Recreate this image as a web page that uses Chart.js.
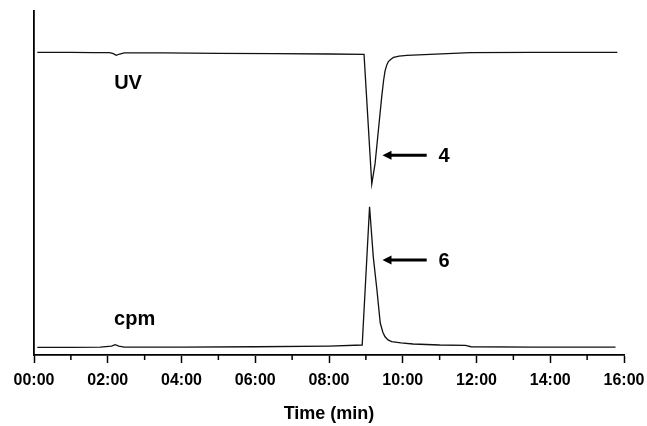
<!DOCTYPE html>
<html>
<head>
<meta charset="utf-8">
<script src="https://cdn.jsdelivr.net/npm/chart.js@4/dist/chart.umd.min.js"></script>
<style>
  body { margin: 0; background: #fff; }
  #wrap { width: 647px; height: 426px; position: relative; }
</style>
</head>
<body>
<div id="wrap"><canvas id="chromChart"></canvas></div>
<script>
// UV trace (minutes, arbitrary signal units)
const uvTime = [0.09, 1.0, 1.6, 2.05, 2.15, 2.23, 2.32, 2.45, 3.5, 5.0, 6.5, 8.0, 8.95, 9.16, 9.25, 9.34, 9.43, 9.48, 9.52, 9.57, 9.61, 9.68, 9.75, 9.9, 10.11, 10.74, 11.83, 13.5, 15.82];
const uvValues = [88.0, 88.0, 87.9, 87.9, 87.6, 87.1, 87.5, 87.8, 87.8, 87.7, 87.6, 87.5, 87.4, 49.7, 55.7, 65.4, 75.1, 79.8, 82.6, 84.4, 85.3, 86.0, 86.5, 86.9, 87.1, 87.4, 87.9, 88.0, 88.0];

// radioactivity trace
const cpmTime = [0.09, 1.0, 1.8, 2.1, 2.2, 2.3, 2.45, 4.0, 6.0, 8.0, 8.9, 9.10, 9.20, 9.30, 9.39, 9.46, 9.52, 9.60, 9.70, 9.95, 10.28, 11.0, 11.7, 11.85, 13.5, 15.77];
const cpmValues = [2.2, 2.2, 2.3, 2.6, 3.0, 2.6, 2.3, 2.3, 2.4, 2.6, 2.9, 43.1, 28.6, 18.9, 9.3, 6.6, 5.3, 4.4, 3.9, 3.5, 3.2, 2.9, 2.8, 2.4, 2.3, 2.3];

const tickLabels = ['00:00', '02:00', '04:00', '06:00', '08:00', '10:00', '12:00', '14:00', '16:00'];

// trace names and where they sit (data coords)
const traceNames = ['UV', 'cpm'];
const traceNameTime = [2.55, 2.73];
const traceNameValue = [79.0, 10.2];

// peak arrows: compound number, arrow tip / tail time, level
const peakNames = ['4', '6'];
const peakTipTime = [9.45, 9.45];
const peakTailTime = [10.65, 10.65];
const peakValue = [58.1, 27.6];
const peakTextTime = [11.12, 11.12];

const FONT = '"Liberation Sans", Arial, sans-serif';

function toPoints(xs, ys) {
  return xs.map((x, i) => ({ x: x, y: ys[i] }));
}

const minorTicks = {
  id: 'minorTicks',
  afterDraw(chart) {
    const ctx = chart.ctx;
    const xs = chart.scales.x;
    const bottom = chart.chartArea.bottom;
    ctx.save();
    ctx.strokeStyle = '#000';
    ctx.lineWidth = 1.5;
    for (let m = 1; m < 16; m += 2) {
      const px = xs.getPixelForValue(m);
      ctx.beginPath();
      ctx.moveTo(px, bottom);
      ctx.lineTo(px, bottom + 5);
      ctx.stroke();
    }
    ctx.restore();
  }
};

const notes = {
  id: 'notes',
  afterDraw(chart) {
    const ctx = chart.ctx;
    const xs = chart.scales.x;
    const ys = chart.scales.y;
    ctx.save();
    ctx.fillStyle = '#000';
    ctx.strokeStyle = '#000';
    ctx.textAlign = 'center';
    ctx.textBaseline = 'middle';

    ctx.font = 'bold 20px ' + FONT;
    traceNames.forEach((name, i) => {
      ctx.fillText(name, xs.getPixelForValue(traceNameTime[i]), ys.getPixelForValue(traceNameValue[i]));
    });

    peakNames.forEach((name, i) => {
      const y = ys.getPixelForValue(peakValue[i]);
      const tip = xs.getPixelForValue(peakTipTime[i]);
      const tail = xs.getPixelForValue(peakTailTime[i]);
      ctx.lineWidth = 3;
      ctx.beginPath();
      ctx.moveTo(tip + 6, y);
      ctx.lineTo(tail, y);
      ctx.stroke();
      ctx.beginPath();
      ctx.moveTo(tip, y);
      ctx.lineTo(tip + 9, y - 4.5);
      ctx.lineTo(tip + 9, y + 4.5);
      ctx.closePath();
      ctx.fill();
      ctx.font = 'bold 20px ' + FONT;
      ctx.fillText(name, xs.getPixelForValue(peakTextTime[i]), y + 1);
    });
    ctx.restore();
  }
};

new Chart(document.getElementById('chromChart'), {
  type: 'line',
  data: {
    datasets: [
      { label: 'UV', data: toPoints(uvTime, uvValues) },
      { label: 'cpm', data: toPoints(cpmTime, cpmValues) }
    ]
  },
  options: {
    responsive: true,
    maintainAspectRatio: false,
    animation: false,
    layout: { padding: { top: 11, right: 23, bottom: 0, left: 0 } },
    elements: {
      line: { borderColor: '#111', borderWidth: 1.3, tension: 0 },
      point: { radius: 0 }
    },
    plugins: {
      legend: { display: false },
      tooltip: { enabled: false }
    },
    scales: {
      x: {
        type: 'linear',
        min: 0,
        max: 16,
        afterFit: s => {
          s.height = 71;
          s.paddingLeft = 0;
          s.paddingRight = 0;
        },
        border: { display: true, color: '#000', width: 1.8 },
        grid: {
          display: true,
          drawOnChartArea: false,
          drawTicks: true,
          tickLength: 8,
          tickColor: '#000',
          tickWidth: 1.5
        },
        ticks: {
          stepSize: 2,
          padding: 8,
          color: '#000',
          maxRotation: 0,
          autoSkip: false,
          font: { family: FONT, size: 16, weight: 'bold' },
          callback: (v, i) => tickLabels[i]
        },
        title: {
          display: true,
          text: 'Time (min)',
          color: '#000',
          padding: { top: 4, bottom: 1 },
          font: { family: FONT, size: 18, weight: 'bold' }
        }
      },
      y: {
        min: 0,
        max: 100,
        afterFit: s => { s.width = 34; },
        border: { display: true, color: '#000', width: 1.8 },
        grid: { display: false },
        ticks: { display: false }
      }
    }
  },
  plugins: [minorTicks, notes]
});
</script>
</body>
</html>
